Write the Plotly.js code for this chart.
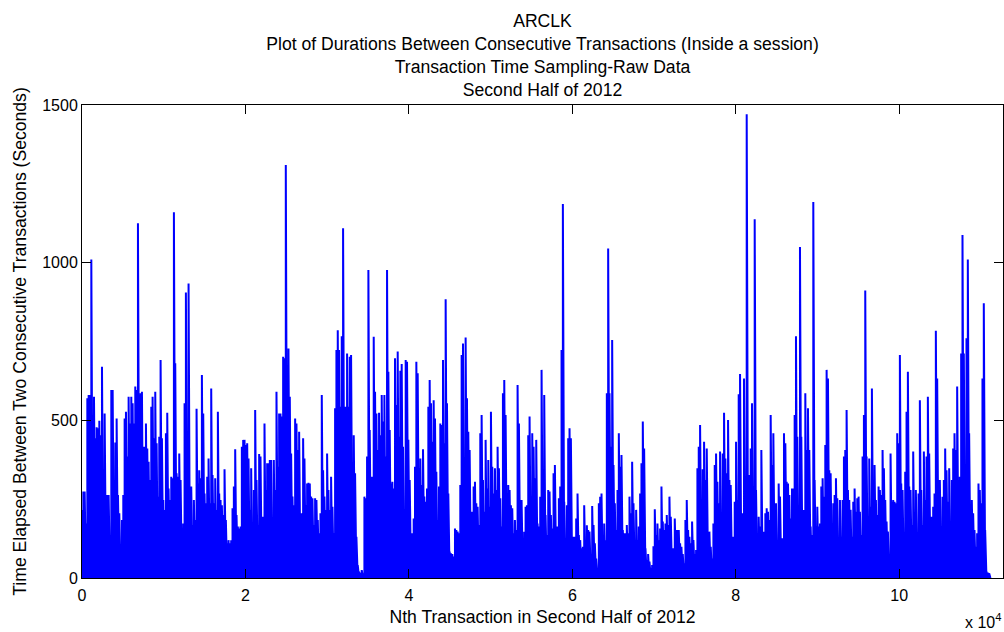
<!DOCTYPE html>
<html>
<head>
<meta charset="utf-8">
<script src="https://cdn.plot.ly/plotly-3.0.1.min.js"></script>
<style>html,body{margin:0;padding:0;background:#fff;}#chart{width:1004px;height:632px;}</style>
</head>
<body>
<div id="chart"></div>
<script>
// Each value = largest duration (seconds) seen in one narrow slice of consecutive transactions,
// read off the reference picture, in transaction order.
const transactionsPerSlice = 163;

const durationsFirstThird = [
  216,274,274,173,570,580,580,1010,506,575,
  443,478,475,499,453,670,200,522,194,263,
  263,131,596,596,279,430,506,263,205,99,
  184,263,506,527,385,575,490,575,554,490,
  607,596,1125,527,586,591,416,416,490,411,
  369,311,543,575,443,591,427,258,448,691,
  443,247,216,459,524,284,247,321,316,1160,
  681,332,321,395,311,152,173,554,905,432,
  934,173,290,168,247,184,537,300,342,316,
  644,522,268,237,321,379,237,601,327,237,
  316,216,527,268,247,231,200,345,184,110,
  120,110,120,221,290,408,200,163,157,163,
  416,438,438,422,427,379,216,348,120,279,
  533,311,168,393,385,163,194,490,279,364,
  364,374,374,131,374,279,591,353,522,522,
  512,702,697,1310,432,728,575,395,258,231,
  506,490,406,464,205,205,443,379,231,300,
  302,300,258,253,168,253,247,184,142,205,
  580,342,258,216,395,279,216,321,226,142,
  538,723,786,723,543,767,1109,284,543,712,
  543,702,707,284,453,332,131,41,20,17,
  25,15,258,253,385,977,469,321,321,765,
  591,522,406,524
];

const durationsSecondThird = [
  453,580,496,580,385,977,654,469,300,305,
  284,697,549,718,448,657,679,416,142,691,
  686,438,311,115,142,189,353,686,649,348,
  379,295,408,258,242,284,543,628,554,432,
  564,506,337,184,290,490,485,691,427,884,
  554,268,84,78,76,68,157,152,147,142,
  295,707,744,348,763,570,464,406,120,210,
  290,305,237,226,168,459,517,311,210,438,
  284,374,226,527,353,268,348,279,416,348,
  253,163,586,628,517,216,295,279,231,221,
  142,184,152,612,490,120,247,120,147,226,
  231,453,512,194,459,416,316,438,173,163,
  258,660,168,580,200,136,279,274,200,157,
  332,358,110,163,253,290,723,1186,242,110,
  231,443,475,443,105,131,131,189,268,136,
  120,94,99,231,120,167,152,147,62,228,
  168,110,62,25,237,258,268,131,173,120,
  586,1045,586,416,755,358,237,152,279,459,
  353,390,152,142,142,168,142,258,205,369,
  237,36,216,120,163,268,364,496,411,94,
  57,76,52,31,41,101,218,136,173,120,
  157,290,179,152,173,200,168,258,194,89,
  94,189,152,152,152
];

const durationsLastThird = [
  110,99,76,47,184,247,152,131,110,179,
  120,76,89,348,416,485,197,345,432,311,
  411,52,147,99,62,173,358,395,305,237,
  401,57,395,524,379,332,501,311,295,131,
  131,242,432,247,583,647,179,205,633,205,
  1471,281,327,411,554,281,1138,279,131,194,
  163,406,115,147,205,221,210,184,517,358,
  459,231,237,120,300,258,120,126,459,427,
  305,300,263,189,284,284,517,767,448,173,
  1050,448,173,216,586,406,538,406,163,136,
  1192,311,163,226,163,173,290,316,258,422,
  660,633,342,332,120,237,263,316,253,126,
  247,131,247,385,406,533,279,247,216,131,
  242,284,210,253,258,210,136,385,517,912,
  385,136,379,226,601,300,358,247,200,290,
  279,263,406,348,247,179,147,52,395,242,
  247,242,237,459,427,707,300,279,120,337,
  527,654,290,279,168,401,163,279,120,268,
  564,279,168,401,247,385,575,395,157,194,
  226,268,784,633,73,311,163,258,311,411,
  342,242,348,163,311,411,459,406,607,268,
  321,712,1088,712,110,760,1010,459,110,247,
  205,152,99,142,300,279,237,633,871,152,
  20,17,15
];

const xTickValues = [0, 20000, 40000, 60000, 80000, 100000];
const xTickLabels = ['0', '2', '4', '6', '8', '10'];
const yTickValues = [0, 500, 1000, 1500];

const titleLines = [
  'ARCLK',
  'Plot of Durations Between Consecutive Transactions (Inside a session)',
  'Transaction Time Sampling-Raw Data',
  'Second Half of 2012'
];
const xLabel = 'Nth Transaction in Second Half of 2012';
const yLabel = 'Time Elapsed Between Two Consecutive Transactions (Seconds)';

// Build the spiky line: each slice rises from the floor to its peak, then the line drops again.
const durations = durationsFirstThird.concat(durationsSecondThird, durationsLastThird);
const xs = [], ys = [];
durations.forEach((v, i) => {
  const n = i * transactionsPerSlice;
  xs.push(n, n);
  ys.push(0, v);
});
xs.push(durations.length * transactionsPerSlice);
ys.push(0);

const FONT = 'Liberation Sans, Arial, Helvetica, sans-serif';
const BIG = 17.6;

const trace = {
  type: 'scatter', mode: 'lines', x: xs, y: ys,
  line: {color: 'rgb(0,0,255)', width: 2, simplify: false},
  hoverinfo: 'x+y', showlegend: false
};

const layout = {
  width: 1004, height: 632,
  margin: {l: 82, r: 1, t: 105, b: 54, pad: 0},
  paper_bgcolor: '#ffffff', plot_bgcolor: '#ffffff',
  font: {family: FONT, size: 16, color: '#000'},
  title: {
    text: titleLines.join('<br>'),
    font: {family: FONT, size: BIG, color: '#000'},
    x: 0.5, xref: 'paper', xanchor: 'center',
    y: 1 - 27 / 632, yref: 'container', yanchor: 'top'
  },
  xaxis: {
    range: [0, 112700], tickmode: 'array', tickvals: xTickValues, ticktext: xTickLabels,
    ticks: 'inside', ticklen: 9, tickwidth: 1, tickcolor: '#000',
    showline: true, linecolor: '#000', linewidth: 1, mirror: 'ticks',
    showgrid: false, zeroline: false, ticklabelstandoff: 3,
    tickfont: {family: FONT, size: 16, color: '#000'},
    title: {text: xLabel, font: {family: FONT, size: BIG, color: '#000'}, standoff: 7}
  },
  yaxis: {
    range: [0, 1500], tickmode: 'array', tickvals: yTickValues,
    ticks: 'inside', ticklen: 9, tickwidth: 1, tickcolor: '#000',
    showline: true, linecolor: '#000', linewidth: 1, mirror: 'ticks',
    showgrid: false, zeroline: false,
    tickfont: {family: FONT, size: 16, color: '#000'},
    title: {text: yLabel, font: {family: FONT, size: BIG, color: '#000'}, standoff: 11}
  },
  annotations: [{
    text: 'x 10<sup>4</sup>', xref: 'paper', yref: 'paper',
    x: 1, xanchor: 'right', y: -(621 - 578) / 473, yanchor: 'middle',
    showarrow: false, font: {family: FONT, size: 16, color: '#000'}
  }]
};

Plotly.newPlot('chart', [trace], layout, {displayModeBar: false, staticPlot: true});
</script>
</body>
</html>
